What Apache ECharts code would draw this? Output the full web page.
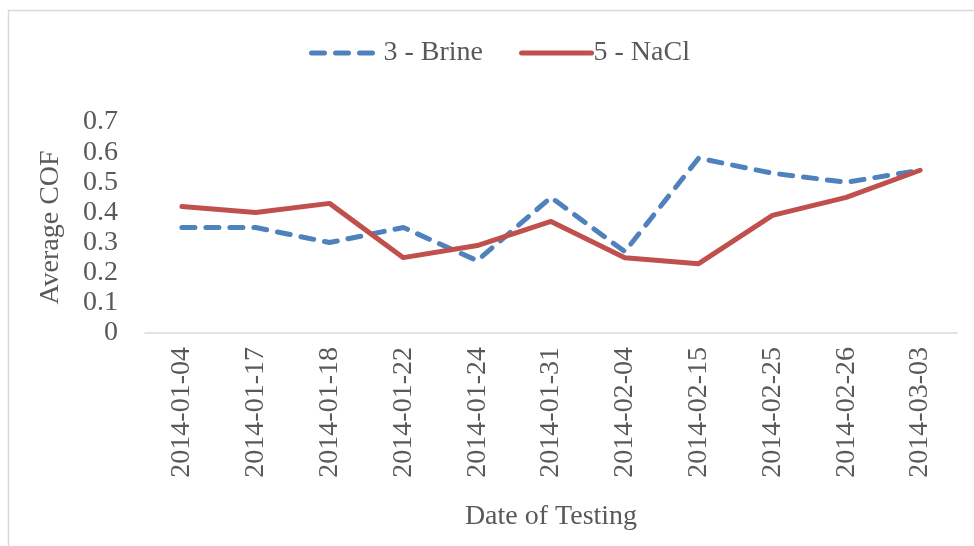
<!DOCTYPE html>
<html>
<head>
<meta charset="utf-8">
<script src="https://cdn.jsdelivr.net/npm/echarts@6/dist/echarts.min.js"></script>
<style>
  html, body { margin: 0; padding: 0; background: #ffffff; }
  #chart { width: 974px; height: 546px; }
</style>
</head>
<body>
<div id="chart"></div>
<script>
// Test dates (category axis)
const testDates = [
  '2014-01-04', '2014-01-17', '2014-01-18', '2014-01-22', '2014-01-24',
  '2014-01-31', '2014-02-04', '2014-02-15', '2014-02-25', '2014-02-26', '2014-03-03'
];

// Average coefficient of friction per test date
const brineCOF = [0.35, 0.35, 0.30, 0.35, 0.24, 0.45, 0.27, 0.58, 0.53, 0.50, 0.54];
const naclCOF  = [0.42, 0.40, 0.43, 0.25, 0.29, 0.37, 0.25, 0.23, 0.39, 0.45, 0.54];

const seriesNames = ['3 - Brine', '5 - NaCl'];

const textColor = '#595959';
const serif = '"Liberation Serif", "Times New Roman", serif';
const lineWidth = 5;

const chart = echarts.init(document.getElementById('chart'), null, { renderer: 'canvas' });

chart.setOption({
  backgroundColor: '#ffffff',
  animation: false,
  graphic: [{
    type: 'rect',
    shape: { x: 8.5, y: 10.5, width: 980, height: 560 },
    style: { fill: 'none', stroke: '#d9d9d9', lineWidth: 1.5 },
    silent: true,
    z: -1
  }],
  legend: {
    left: 304,
    top: 34,
    itemWidth: 70,
    itemHeight: 14,
    itemGap: 36,
    itemStyle: { opacity: 0 },
    lineStyle: { width: lineWidth, cap: 'round' },
    textStyle: { fontFamily: serif, fontSize: 28, color: textColor, padding: [0, 0, 0, -3] },
    data: seriesNames
  },
  grid: { left: 145, right: 17, top: 122, bottom: 213, containLabel: false },
  xAxis: {
    type: 'category',
    data: testDates,
    boundaryGap: true,
    name: 'Date of Testing',
    nameLocation: 'middle',
    nameGap: 170,
    nameTextStyle: { fontFamily: serif, fontSize: 28, color: textColor },
    axisLine: { show: true, lineStyle: { color: '#d9d9d9', width: 1.5 } },
    axisTick: { show: false },
    axisLabel: { rotate: 90, margin: 14, fontFamily: serif, fontSize: 28, color: textColor, interval: 0 },
    splitLine: { show: false }
  },
  yAxis: {
    type: 'value',
    min: 0,
    max: 0.7,
    interval: 0.1,
    name: 'Average COF',
    nameLocation: 'middle',
    nameGap: 80,
    nameRotate: 90,
    nameTextStyle: { fontFamily: serif, fontSize: 28, color: textColor },
    axisLine: { show: false },
    axisTick: { show: false },
    axisLabel: { margin: 27, fontFamily: serif, fontSize: 28, color: textColor },
    splitLine: { show: false }
  },
  series: [
    {
      name: seriesNames[0],
      type: 'line',
      data: brineCOF,
      symbol: 'none',
      color: '#4f81bd',
      lineStyle: { color: '#4f81bd', width: lineWidth, type: [13, 11], cap: 'round', join: 'round' },
      z: 2
    },
    {
      name: seriesNames[1],
      type: 'line',
      data: naclCOF,
      symbol: 'none',
      color: '#c0504d',
      lineStyle: { color: '#c0504d', width: lineWidth, type: 'solid', cap: 'round', join: 'round' },
      z: 3
    }
  ]
});
</script>
</body>
</html>
